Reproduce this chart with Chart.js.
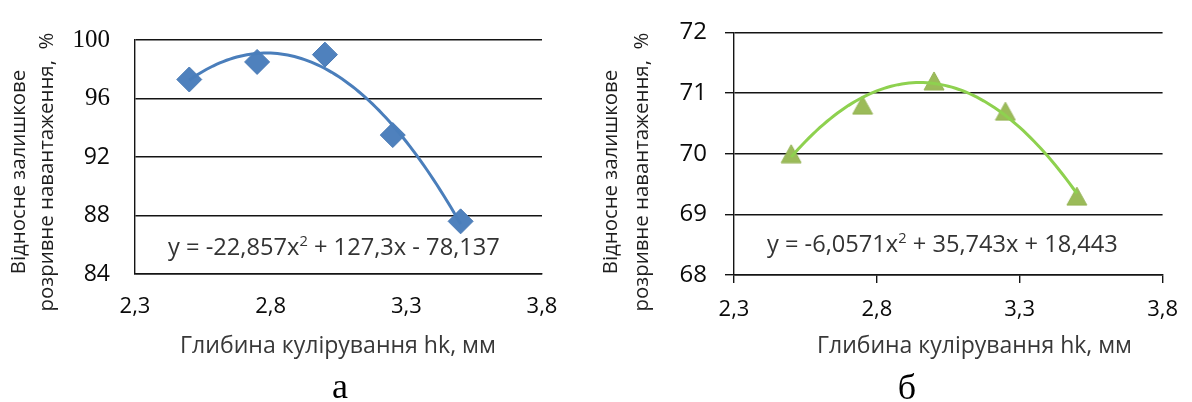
<!DOCTYPE html>
<html>
<head>
<meta charset="utf-8">
<script src="https://cdn.jsdelivr.net/npm/chart.js@4.4.1/dist/chart.umd.min.js"></script>
<style>
  html, body { margin: 0; padding: 0; background: #fff; }
  #wrap { position: relative; width: 1192px; height: 402px; overflow: hidden; background: #fff; }
  #wrap canvas { position: absolute; top: 0; }
  #chartA { left: 0; }
  #chartB { left: 596px; }
</style>
</head>
<body>
<div id="wrap">
  <canvas id="chartA" width="596" height="402"></canvas>
  <canvas id="chartB" width="596" height="402"></canvas>
</div>
<script>
// Knitting depth hk, mm
const depthMm = [2.5, 2.75, 3.0, 3.25, 3.5];
// Relative residual breaking load, %
const loadA = [97.3, 98.5, 99.0, 93.5, 87.6];
const loadB = [70.0, 70.8, 71.2, 70.7, 69.3];
// Quadratic trendline coefficients: [x², x, constant]
const trendA = [-22.857, 127.3, -78.137];
const trendB = [-6.0571, 35.743, 18.443];
// Tick values
const xTicks = [2.3, 2.8, 3.3, 3.8];
const yTicksA = [84, 88, 92, 96, 100];
const yTicksB = [68, 69, 70, 71, 72];
// Texts
const xTitle = 'Глибина кулірування hk, мм';
const yTitle = ['Відносне залишкове', 'розривне навантаження,  %'];
const panelLabels = ['а', 'б'];

const SANS = '"Open Sans", "Liberation Sans", "DejaVu Sans", sans-serif';
const SERIF = '"Liberation Serif", "DejaVu Serif", serif';
const GRID = '#141414';
const TICK = '#0a0a0a';
const TITLE = '#1e1e1e';

const commaNum = v => String(v).replace('.', ',');

// trendline sampled across the measured depth range
function trendPoints(coef, xs) {
  const pts = [];
  const x0 = xs[0], x1 = xs[xs.length - 1], n = 80;
  for (let i = 0; i <= n; i++) {
    const x = x0 + (x1 - x0) * i / n;
    pts.push({ x: x, y: coef[0] * x * x + coef[1] * x + coef[2] });
  }
  return pts;
}

function equationParts(coef) {
  const sign = v => (v < 0 ? '-' : '+');
  const abs = v => commaNum(Math.abs(v));
  return [
    'y = ' + (coef[0] < 0 ? '-' : '') + abs(coef[0]) + 'x',
    '2',
    ' ' + sign(coef[1]) + ' ' + abs(coef[1]) + 'x ' + sign(coef[2]) + ' ' + abs(coef[2])
  ];
}

function fitSize(c, text, width, family, maxSize) {
  c.font = '100px ' + family;
  return Math.min(maxSize, 100 * width / c.measureText(text).width);
}

// green triangle marker, centred on its bounding box
function triangleMarker(w, h, fill) {
  const cv = document.createElement('canvas');
  cv.width = w + 2; cv.height = h + 2;
  const c = cv.getContext('2d');
  c.fillStyle = fill;
  c.strokeStyle = '#93b253';
  c.lineWidth = 1;
  c.beginPath();
  c.moveTo(cv.width / 2, 1);
  c.lineTo(cv.width - 1, cv.height - 1);
  c.lineTo(1, cv.height - 1);
  c.closePath();
  c.fill();
  c.stroke();
  return cv;
}

function panelText(cfg) {
  return {
    id: 'panelText',
    afterDraw(chart) {
      const c = chart.ctx;
      c.save();
      c.fillStyle = TITLE;

      // two-line vertical axis title
      const ySize = fitSize(c, yTitle[1], cfg.yTitleLen, SANS, 26);
      c.font = ySize + 'px ' + SANS;
      c.textAlign = 'center';
      c.textBaseline = 'alphabetic';
      yTitle.forEach((t, i) => {
        c.save();
        c.translate(cfg.yTitleX[i], cfg.yTitleMid);
        c.rotate(-Math.PI / 2);
        c.fillText(t, 0, 0);
        c.restore();
      });

      // horizontal axis title
      c.fillStyle = '#383838';
      const xSize = fitSize(c, xTitle, cfg.xTitleLen, SANS, 26);
      c.font = xSize + 'px ' + SANS;
      c.textAlign = 'center';
      c.fillText(xTitle, cfg.xTitleX, cfg.xTitleY);

      // trendline equation with superscript
      const parts = equationParts(cfg.trend);
      c.font = '100px ' + SANS;
      const w0 = c.measureText(parts[0]).width, w2 = c.measureText(parts[2]).width;
      c.font = '62px ' + SANS;
      const w1 = c.measureText(parts[1]).width;
      const eSize = 100 * cfg.eqLen / (w0 + w1 + w2);
      c.textAlign = 'left';
      c.fillStyle = '#333333';
      let x = cfg.eqX;
      c.font = eSize + 'px ' + SANS;
      c.fillText(parts[0], x, cfg.eqY);
      x += c.measureText(parts[0]).width;
      c.font = (eSize * 0.62) + 'px ' + SANS;
      c.fillText(parts[1], x, cfg.eqY - eSize * 0.36);
      x += c.measureText(parts[1]).width;
      c.font = eSize + 'px ' + SANS;
      c.fillText(parts[2], x, cfg.eqY);

      // panel caption
      c.fillStyle = '#000';
      c.font = '36px ' + SERIF;
      c.textAlign = 'center';
      c.fillText(cfg.caption, cfg.captionX, cfg.captionY);
      c.restore();
    }
  };
}

function buildPanel(id, cfg) {
  return new Chart(document.getElementById(id).getContext('2d'), {
    type: 'scatter',
    data: {
      datasets: [
        {
          type: 'line',
          data: trendPoints(cfg.trend, depthMm),
          borderColor: cfg.lineColor,
          borderWidth: 3,
          pointRadius: 0,
          tension: 0,
          fill: false,
          order: 0
        },
        {
          type: 'scatter',
          data: depthMm.map((x, i) => ({ x: x, y: cfg.values[i] })),
          pointStyle: cfg.pointStyle,
          pointRadius: cfg.pointRadius,
          backgroundColor: cfg.pointColor,
          borderColor: cfg.pointBorder,
          borderWidth: 1,
          order: 1
        }
      ]
    },
    options: {
      responsive: false,
      animation: false,
      devicePixelRatio: 1,
      layout: { padding: { left: 0, right: cfg.padRight, top: cfg.padTop, bottom: 0 } },
      plugins: { legend: { display: false }, tooltip: { enabled: false } },
      scales: {
        x: {
          type: 'linear',
          min: xTicks[0],
          max: xTicks[xTicks.length - 1],
          afterBuildTicks: s => { s.ticks = xTicks.map(v => ({ value: v })); },
          afterFit: s => { s.height = cfg.xAxisHeight; },
          grid: {
            display: cfg.xTickLen > 0,
            drawOnChartArea: false,
            drawTicks: cfg.xTickLen > 0,
            tickLength: cfg.xTickLen,
            color: GRID,
            lineWidth: 1.4
          },
          border: { display: true, color: GRID, width: 1.4 },
          ticks: {
            padding: cfg.xPad,
            color: TICK,
            font: { family: SANS, size: 22 },
            maxRotation: 0,
            autoSkip: false,
            callback: v => commaNum(v)
          }
        },
        y: {
          type: 'linear',
          min: cfg.yTicks[0],
          max: cfg.yTicks[cfg.yTicks.length - 1],
          afterBuildTicks: s => { s.ticks = cfg.yTicks.map(v => ({ value: v })); },
          afterFit: s => { s.width = cfg.yAxisWidth; },
          grid: {
            drawTicks: cfg.yTickLen > 0,
            tickLength: cfg.yTickLen,
            color: GRID,
            lineWidth: 1.4
          },
          border: { display: true, color: GRID, width: 1.4 },
          ticks: {
            padding: cfg.yPad,
            color: TICK,
            font: cfg.yTickFont,
            autoSkip: false,
            callback: v => String(v)
          }
        }
      }
    },
    plugins: [panelText(cfg)]
  });
}

buildPanel('chartA', {
  values: loadA,
  trend: trendA,
  yTicks: yTicksA,
  lineColor: '#4a7ebb',
  pointStyle: 'rectRot',
  pointRadius: 12.5,
  pointColor: '#4f81bd',
  pointBorder: '#4a7ab5',
  padRight: 54, padTop: 28,
  yAxisWidth: 135, xAxisHeight: 128,
  xTickLen: 0, yTickLen: 0,
  xPad: 20, yPad: 25,
  yTickFont: ctx => (ctx.tick && ctx.tick.value >= 96)
    ? { family: SERIF, size: 25 }
    : { family: SANS, size: 23 },
  yTitleX: [25, 53], yTitleMid: 172, yTitleLen: 279,
  xTitleX: 338, xTitleY: 353, xTitleLen: 316,
  eqX: 168, eqY: 255, eqLen: 332,
  caption: panelLabels[0], captionX: 340, captionY: 398
});

buildPanel('chartB', {
  values: loadB,
  trend: trendB,
  yTicks: yTicksB,
  lineColor: '#8ed14f',
  pointStyle: triangleMarker(20, 18, '#9bbb59'),
  pointRadius: 11,
  pointColor: '#9bbb59',
  pointBorder: '#93b253',
  padRight: 25, padTop: 21,
  yAxisWidth: 138, xAxisHeight: 127,
  xTickLen: 8, yTickLen: 9,
  xPad: 14, yPad: 18,
  yTickFont: { family: SANS, size: 24 },
  yTitleX: [21, 52], yTitleMid: 172, yTitleLen: 279,
  xTitleX: 378.5, xTitleY: 353, xTitleLen: 315,
  eqX: 171, eqY: 252, eqLen: 351,
  caption: panelLabels[1], captionX: 311, captionY: 399
});
</script>
</body>
</html>
